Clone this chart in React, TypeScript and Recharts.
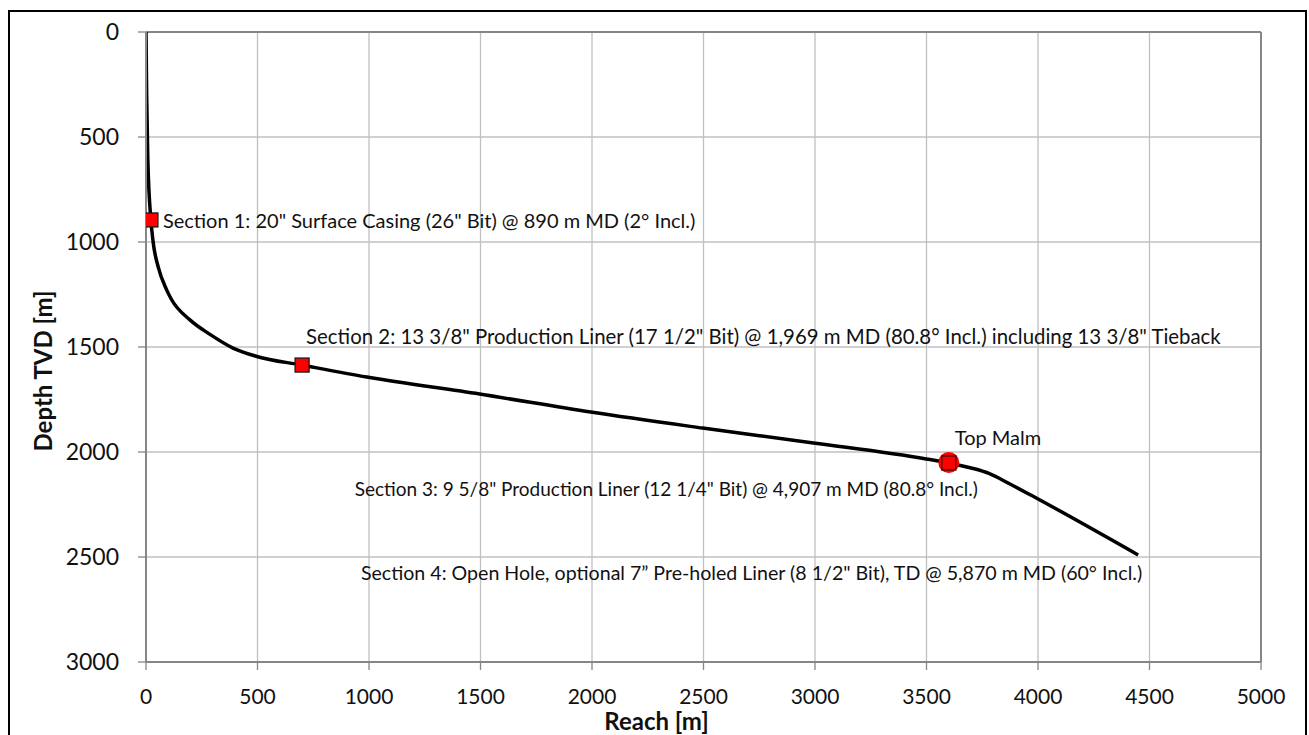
import React from "react"
import {
  ComposedChart,
  Line,
  Scatter,
  XAxis,
  YAxis,
  CartesianGrid,
  ReferenceLine,
  Label,
} from "recharts"

// well path
const reach = [0, 3, 8, 22, 32, 55, 93, 115, 197, 287, 390, 497, 700, 990, 1496, 1994, 2496, 2993, 3499, 3600, 3700, 3780, 3870, 3992, 4449]
const depth = [0, 300, 600, 895, 1000, 1120, 1229, 1275, 1371, 1440, 1505, 1545, 1586, 1643, 1724, 1810, 1886, 1957, 2033, 2052, 2076, 2102, 2150, 2219, 2490]

// casing points
const sectionReach = [22, 700, 3600]
const sectionDepth = [895, 1586, 2052]

// top of the Malm formation
const malmReach = [3600]
const malmDepth = [2050]

const xTicks = [0, 500, 1000, 1500, 2000, 2500, 3000, 3500, 4000, 4500, 5000]
const yTicks = [0, 500, 1000, 1500, 2000, 2500, 3000]

const notes = [
  { id: "s1", x: 22, y: 895, text: "Section 1: 20\" Surface Casing (26\" Bit) @ 890 m MD (2° Incl.)" },
  { id: "s2", x: 700, y: 1586, text: "Section 2: 13 3/8\" Production Liner (17 1/2\" Bit) @ 1,969 m MD (80.8° Incl.) including 13 3/8\" Tieback" },
  { id: "malm", x: 3600, y: 2052, text: "Top Malm" },
  { id: "s3", x: 3600, y: 2052, text: "Section 3: 9 5/8\" Production Liner (12 1/4\" Bit) @ 4,907 m MD (80.8° Incl.)" },
  { id: "s4", x: 4449, y: 2490, text: "Section 4: Open Hole, optional 7\u201d Pre-holed Liner (8 1/2\" Bit), TD @ 5,870 m MD (60° Incl.)" },
]

const path = reach.map((x, i) => ({ x, y: depth[i] }))
// circle first so the casing squares sit on top of it
const markers = [
  ...malmReach.map((x, i) => ({ x, y: malmDepth[i], kind: "malm" })),
  ...sectionReach.map((x, i) => ({ x, y: sectionDepth[i], kind: "section" })),
]

const FONT = "Lato, 'Open Sans', sans-serif"
const AXIS = "#868686"
const GRID = "#c0c0c0"

// where each note sits relative to its point
const notePlace: Record<string, { dx: number; dy: number; anchor: "start" | "end"; size: number }> = {
  s1: { dx: 12, dy: 0, anchor: "start", size: 20 },
  s2: { dx: 4, dy: -29, anchor: "start", size: 20.4 },
  malm: { dx: 6, dy: -26, anchor: "start", size: 20 },
  s3: { dx: 29, dy: 26, anchor: "end", size: 19 },
  s4: { dx: 4, dy: 18, anchor: "end", size: 19.6 },
}

const Marker = (props: any) => {
  const { cx, cy, payload } = props
  if (payload.kind === "malm") return <circle cx={cx} cy={cy} r={10.5} fill="#ff0000" />
  return <rect x={cx - 7} y={cy - 7} width={14} height={14} fill="#ff0000" stroke="#1a1a1a" strokeWidth={1.3} />
}

const Note = (props: any) => {
  const { cx, cy, payload } = props
  const p = notePlace[payload.id]
  return (
    <text
      x={cx + p.dx}
      y={cy + p.dy}
      textAnchor={p.anchor}
      dominantBaseline="central"
      fontFamily={FONT}
      fontSize={p.size}
      fill="#111"
    >
      {payload.text}
    </text>
  )
}

export default function App() {
  return (
    <>
      <div
        style={{
          position: "fixed",
          left: 8,
          top: 10,
          width: 1299,
          height: 740,
          border: "2px solid #000",
          boxSizing: "border-box",
          background: "#fff",
        }}
      />
      <div style={{ position: "fixed", left: 0, top: 0 }}>
        <ComposedChart width={1309} height={735} margin={{ top: 32, right: 48, left: 0, bottom: 33 }}>
          <CartesianGrid stroke={GRID} strokeWidth={1.3} />
          <XAxis
            type="number"
            dataKey="x"
            domain={[0, 5000]}
            ticks={xTicks}
            interval={0}
            allowDataOverflow
            height={40}
            stroke={AXIS}
            axisLine={{ stroke: AXIS, strokeWidth: 2 }}
            tickLine={{ stroke: AXIS, strokeWidth: 1.3 }}
            tickSize={8}
            tickMargin={19}
            tick={{ fontFamily: FONT, fontSize: 21, fill: "#111" }}
          >
            <Label
              content={({ viewBox }: any) => (
                <text
                  x={viewBox.x + viewBox.width / 2 - 47}
                  y={720}
                  textAnchor="middle"
                  dominantBaseline="central"
                  fontFamily={FONT}
                  fontWeight="bold"
                  fontSize={24}
                  fill="#111"
                >
                  Reach [m]
                </text>
              )}
            />
          </XAxis>
          <YAxis
            type="number"
            dataKey="y"
            reversed
            domain={[0, 3000]}
            ticks={yTicks}
            interval={0}
            allowDataOverflow
            width={146}
            stroke={AXIS}
            axisLine={{ stroke: AXIS, strokeWidth: 2 }}
            tickLine={{ stroke: AXIS, strokeWidth: 1.3 }}
            tickSize={8}
            tickMargin={19}
            tick={{ fontFamily: FONT, fontSize: 23, fill: "#111" }}
          >
            <Label
              content={({ viewBox }: any) => (
                <text
                  x={42}
                  y={viewBox.y + viewBox.height / 2 + 24}
                  transform={`rotate(-90, 42, ${viewBox.y + viewBox.height / 2 + 24})`}
                  textAnchor="middle"
                  dominantBaseline="central"
                  fontFamily={FONT}
                  fontWeight="bold"
                  fontSize={24}
                  fill="#111"
                >
                  Depth TVD [m]
                </text>
              )}
            />
          </YAxis>
          <ReferenceLine y={0} stroke={AXIS} strokeWidth={2} />
          <ReferenceLine x={5000} stroke={AXIS} strokeWidth={2} />
          <Line
            data={path}
            dataKey="y"
            type="monotone"
            stroke="#000"
            strokeWidth={3.5}
            dot={false}
            activeDot={false}
            isAnimationActive={false}
          />
          <Scatter data={markers} dataKey="y" shape={Marker} isAnimationActive={false} />
          <Scatter data={notes} dataKey="y" shape={Note} isAnimationActive={false} />
        </ComposedChart>
      </div>
    </>
  )
}
